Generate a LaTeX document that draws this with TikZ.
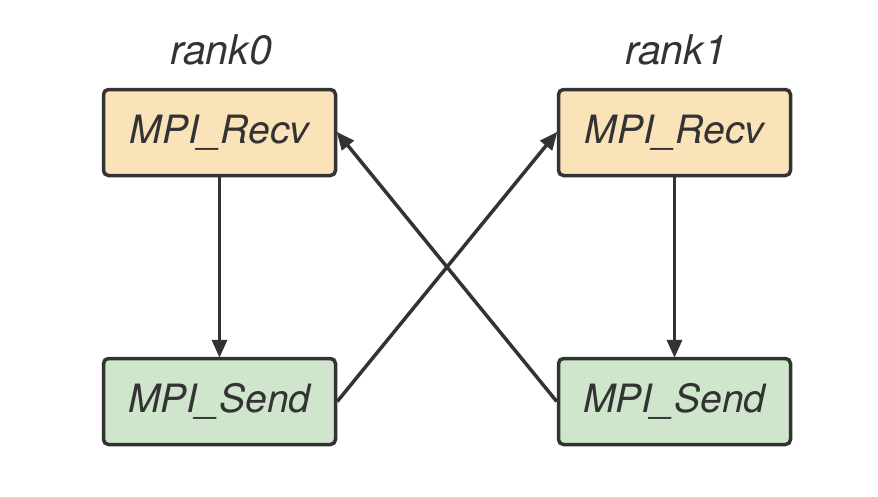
\documentclass[tikz,border=0pt]{standalone}
\usepackage{fontspec}
\setmainfont{TeX Gyre Heros}
\usetikzlibrary{arrows.meta}
\definecolor{recvfill}{HTML}{FAE2B9}
\definecolor{sendfill}{HTML}{CFE5CC}
\definecolor{ink}{HTML}{333333}
\tikzset{
  box/.style={draw=ink, line width=3.5pt, rounded corners=5pt, minimum width=232pt, minimum height=86pt, inner sep=0pt, font=\fontsize{39}{42}\selectfont\itshape, text=ink},
  recvbox/.style={box, fill=recvfill},
  sendbox/.style={box, fill=sendfill},
  ranklabel/.style={font=\fontsize{41}{44}\selectfont\itshape, text=ink, inner sep=0pt},
  conn/.style={draw=ink, line width=3.5pt, -{Triangle[length=18pt,width=15pt]}, shorten >=-1pt}
}
\begin{document}
\begin{tikzpicture}[x=1pt,y=-1pt]
\useasboundingbox (0,0) rectangle (878,496);
\node[ranklabel] (r0) at (221,50) {rank0};
\node[ranklabel] (r1) at (676,50) {rank1};
\node[recvbox] (recv0) at (219.5,132.5) {MPI\_Recv};
\node[sendbox] (send0) at (219.5,401.5) {MPI\_Send};
\node[recvbox] (recv1) at (674.5,132.5) {MPI\_Recv};
\node[sendbox] (send1) at (674.5,401.5) {MPI\_Send};
\draw[conn] (recv0) -- (send0);
\draw[conn] (recv1) -- (send1);
\draw[conn] (send0.east) -- (recv1.west);
\draw[conn] (send1.west) -- (recv0.east);
\end{tikzpicture}
\end{document}
